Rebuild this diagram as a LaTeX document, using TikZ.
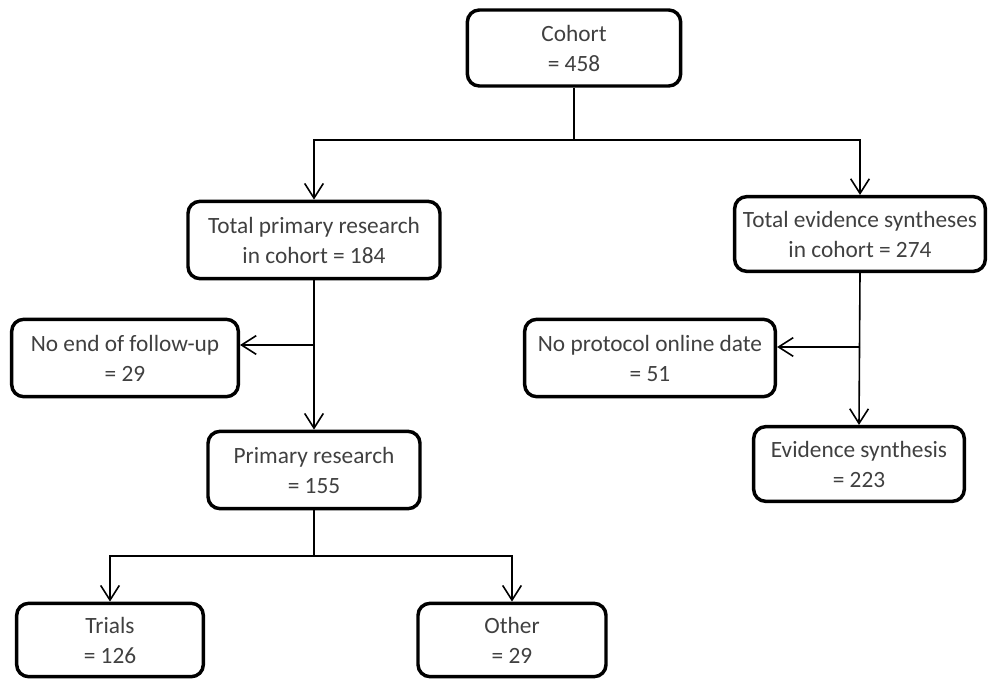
\documentclass[tikz,border=0pt]{standalone}
\usepackage{fontspec}
\setmainfont{Carlito}
\usepackage{tikz}
\usetikzlibrary{arrows.meta}
\definecolor{txtgray}{HTML}{404040}
\tikzstyle{box} = [draw=black, line width=2.6pt, rounded corners=9pt, align=center, text=txtgray, inner sep=2pt, font={\fontsize{17.5}{22.5}\selectfont}]
\tikzstyle{link} = [line width=1.2pt]

\begin{document}
\begin{tikzpicture}[x=0.75pt, y=-0.75pt, >={Straight Barb[length=11pt,width=14pt]}]
    \useasboundingbox (0,0) rectangle (989,681);
    \node[box, minimum width=160pt, minimum height=57pt](cohort) at (574,48){Cohort\\= 458};
    \node[box, minimum width=189pt, minimum height=58pt](primtot) at (314,240){Total primary research\\in cohort = 184};
    \node[box, minimum width=188pt, minimum height=56pt](evitot) at (860,234){Total evidence syntheses\\in cohort = 274};
    \node[box, minimum width=170pt, minimum height=58pt](nofollow) at (125,358){No end of follow-up\\= 29};
    \node[box, minimum width=188pt, minimum height=58pt](noproto) at (650,358){No protocol online date\\= 51};
    \node[box, minimum width=158pt, minimum height=56pt](evisyn) at (859,464){Evidence synthesis\\= 223};
    \node[box, minimum width=159pt, minimum height=58pt](primres) at (314,470){Primary research\\= 155};
    \node[box, minimum width=140pt, minimum height=55pt](trials) at (110,640){Trials\\= 126};
    \node[box, minimum width=141pt, minimum height=55pt](other) at (512,640){Other\\= 29};
    \coordinate (split0) at (574,140);
    \coordinate (split1) at (314,345);
    \coordinate (split2) at (860,347);
    \coordinate (split3) at (314,556);
    \draw[link] (cohort.south) -- (split0);
    \draw[link,->] (split0) -| (primtot.north);
    \draw[link,->] (split0) -| (evitot.north);
    \draw[link,->] (primtot.south) -- (primres.north);
    \draw[link,->] (split1) -- (split1 -| nofollow.east);
    \draw[link,->] (evitot.south) -- (evisyn.north);
    \draw[link,->] (split2) -- (split2 -| noproto.east);
    \draw[link] (primres.south) -- (split3);
    \draw[link,->] (split3) -| (trials.north);
    \draw[link,->] (split3) -| (other.north);
  \end{tikzpicture}
\end{document}
